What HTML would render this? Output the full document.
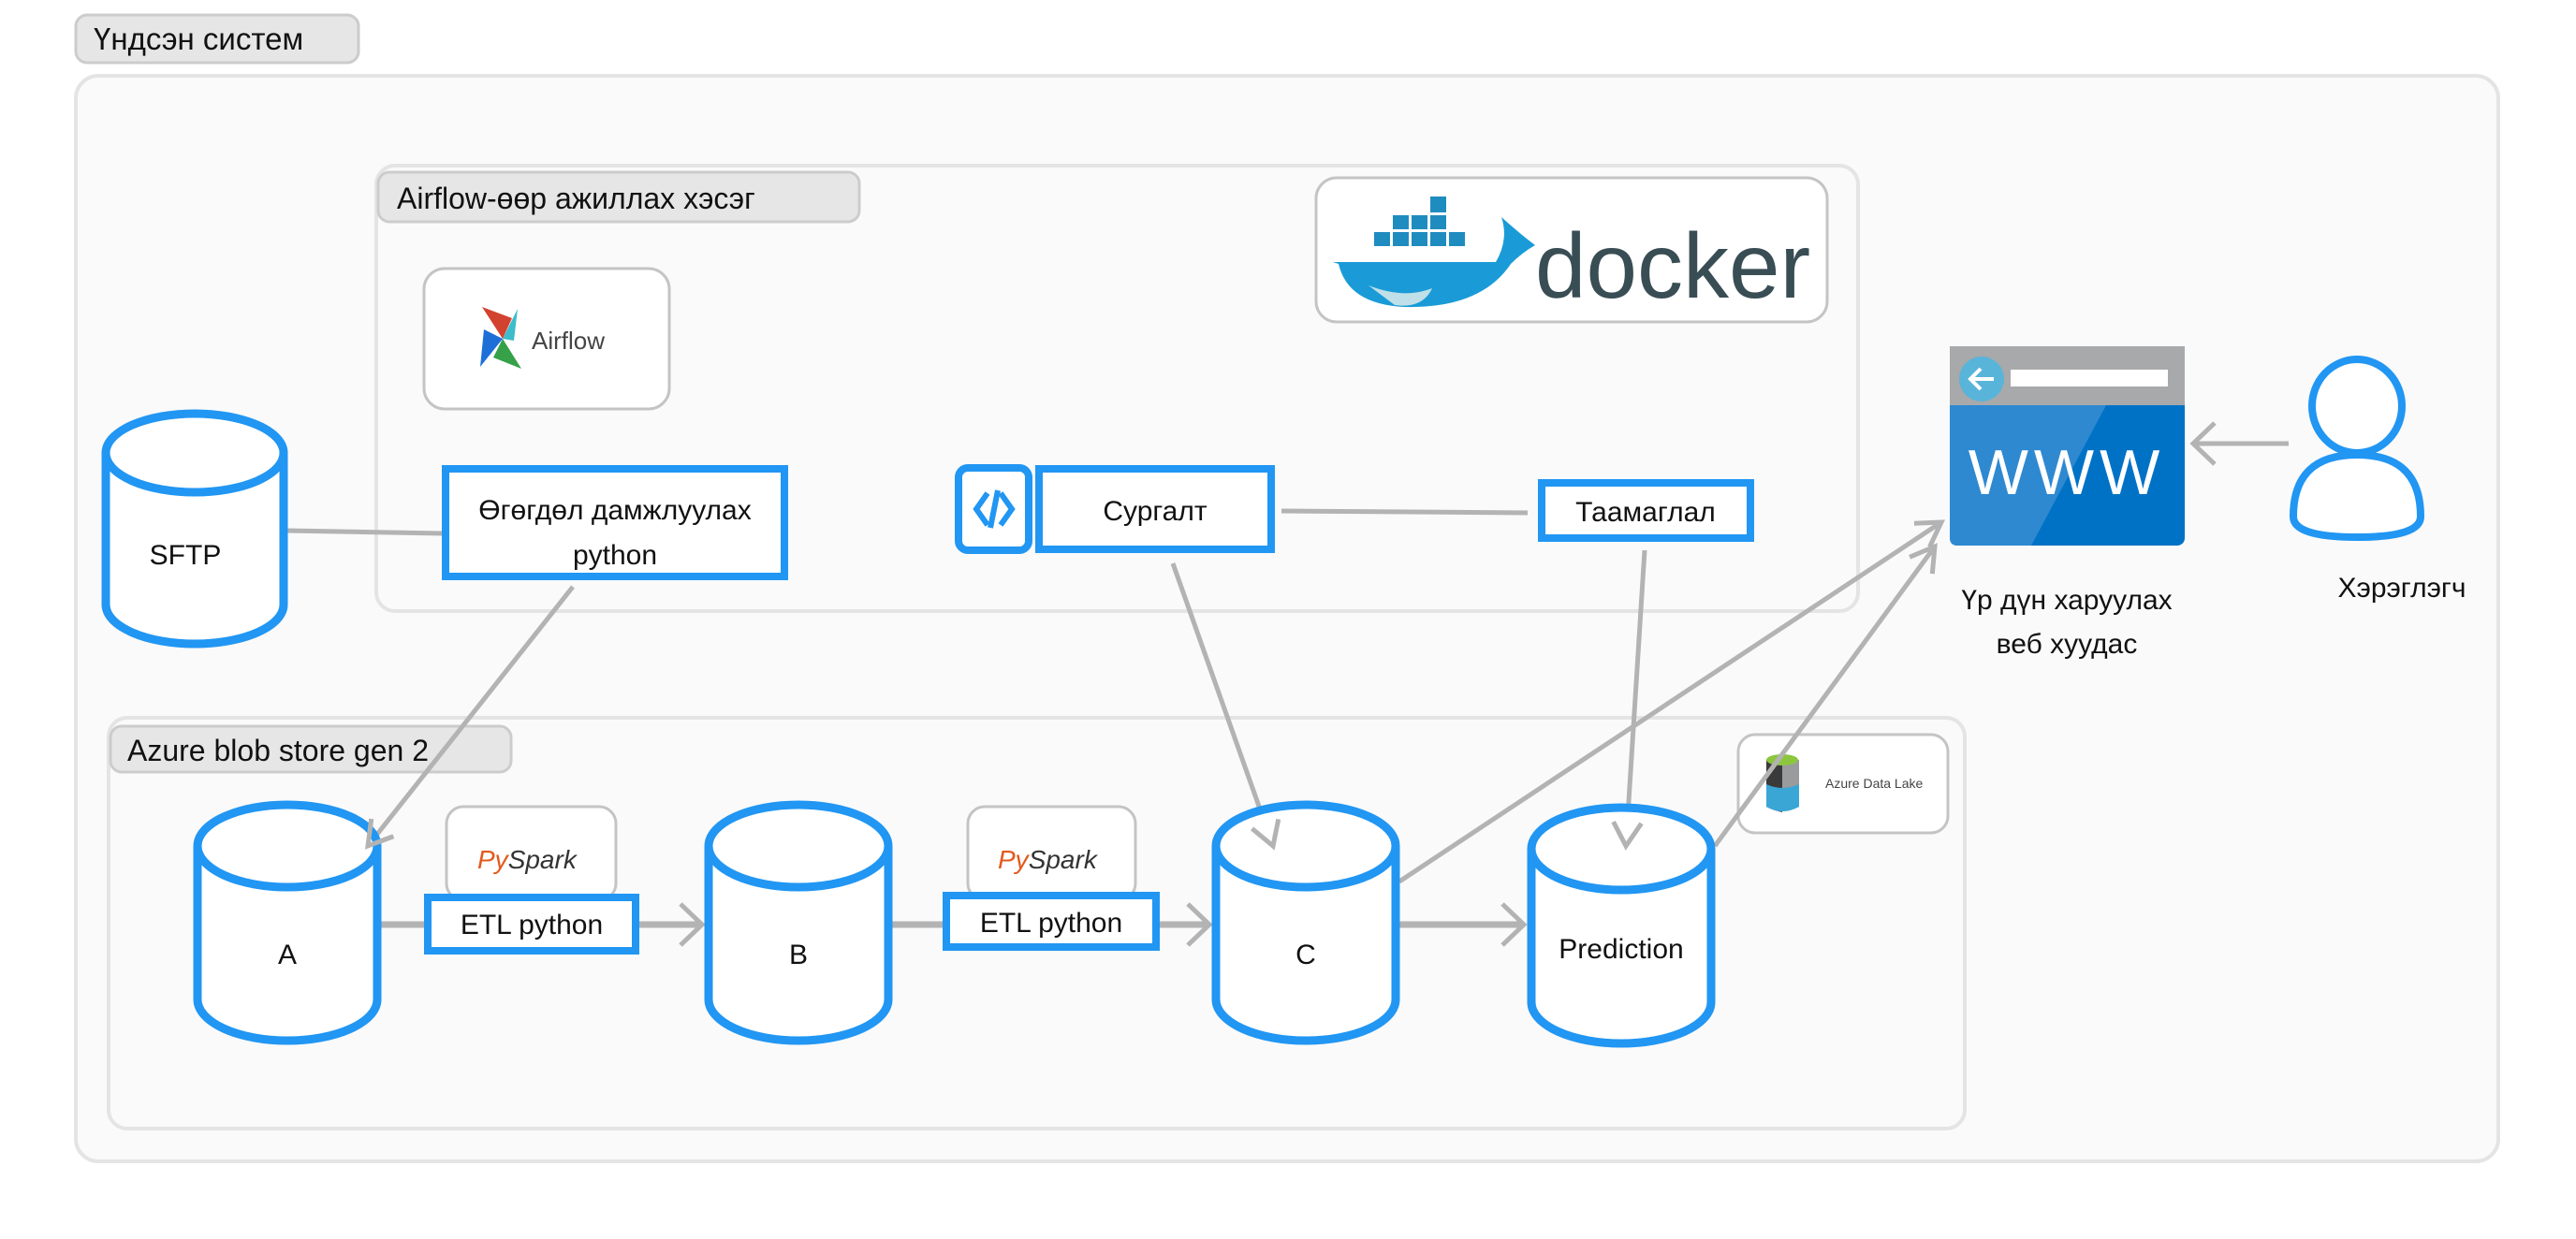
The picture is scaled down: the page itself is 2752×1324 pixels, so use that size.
<!DOCTYPE html>
<html><head><meta charset="utf-8"><style>
html,body{margin:0;padding:0;background:#fff;width:2752px;height:1324px;overflow:hidden}
svg{display:block}
text{font-family:"Liberation Sans",sans-serif;fill:#111}
</style></head><body>
<svg width="2752" height="1324" viewBox="0 0 2752 1324" xmlns="http://www.w3.org/2000/svg">
<!-- outer -->
<rect x="81" y="16" width="302" height="51" rx="12" fill="#e6e6e6" stroke="#cccccc" stroke-width="3"/>
<text x="100" y="53" font-size="33">Үндсэн систем</text>
<rect x="81" y="81" width="2588" height="1160" rx="24" fill="#fafafa" stroke="#e4e4e4" stroke-width="4"/>
<!-- airflow group -->
<rect x="402" y="177" width="1583" height="476" rx="20" fill="#fafafa" stroke="#e4e4e4" stroke-width="4"/>
<rect x="404" y="184" width="514" height="53" rx="12" fill="#e6e6e6" stroke="#cccccc" stroke-width="3"/>
<text x="424" y="223" font-size="32">Airflow-өөр ажиллах хэсэг</text>
<rect x="453" y="287" width="262" height="150" rx="22" fill="#fff" stroke="#c4c4c4" stroke-width="3"/>
<g transform="translate(537,362)">
<path d="M0,0 L-22,-34 L10,-22 Z" fill="#d2432f"/>
<path d="M0,0 L16,-32 L12,2 Z" fill="#3dbccb"/>
<path d="M0,0 L20,32 L-10,20 Z" fill="#36a148"/>
<path d="M0,0 L-24,30 L-20,-10 Z" fill="#1d6fd7"/>
</g>
<text x="568" y="373" font-size="26" style="fill:#444">Airflow</text>
<rect x="1406" y="190" width="546" height="154" rx="22" fill="#fff" stroke="#c4c4c4" stroke-width="3"/>
<g fill="#1f8cc0">
<rect x="1468" y="248" width="17" height="15"/><rect x="1488" y="248" width="17" height="15"/><rect x="1508" y="248" width="17" height="15"/><rect x="1528" y="248" width="17" height="15"/><rect x="1548" y="248" width="17" height="15"/>
<rect x="1488" y="230" width="17" height="15"/><rect x="1508" y="230" width="17" height="15"/><rect x="1528" y="230" width="17" height="15"/>
<rect x="1528" y="210" width="17" height="17"/>
</g>
<path d="M1424,280 H1598 Q1612,256 1604,232 Q1624,250 1640,262 Q1626,270 1614,282 Q1582,330 1500,328 Q1440,325 1430,282 Z" fill="#1a9bd7"/>
<path d="M1462,305 Q1500,320 1530,308 Q1520,330 1490,326 Z" fill="#bfe0e8"/>
<text x="1640" y="318" font-size="98" style="fill:#394d54">docker</text>
<!-- web -->
<rect x="2083" y="370" width="251" height="213" rx="8" fill="#0072c6"/>
<path d="M2083,370 H2334 V433 H2083 Z" fill="#a8a9ab"/>
<path d="M2083,433 H2250 L2170,583 H2091 Q2083,583 2083,575 Z" fill="#3a8fd3" opacity="0.8"/>
<circle cx="2117" cy="405" r="24" fill="#59b4d9"/>
<path d="M2130,405 H2106 M2116,394 L2105,405 L2116,416" stroke="#fff" stroke-width="4" fill="none"/>
<rect x="2148" y="395" width="168" height="18" fill="#fff"/>
<text x="2208" y="528" font-size="68" text-anchor="middle" style="fill:#fff" letter-spacing="6">WWW</text>
<text x="2208" y="651" font-size="30" text-anchor="middle">Үр дүн харуулах</text>
<text x="2208" y="698" font-size="30" text-anchor="middle">веб хуудас</text>
<!-- person -->
<ellipse cx="2518" cy="434" rx="48" ry="50" fill="#fff" stroke="#2196f3" stroke-width="8"/>
<path d="M2450,552 Q2450,486 2518,486 Q2586,486 2586,552 Q2586,574 2518,574 Q2450,574 2450,552 Z" fill="#fff" stroke="#2196f3" stroke-width="8"/>
<text x="2566" y="638" font-size="30" text-anchor="middle">Хэрэглэгч</text>
<!-- azure group -->
<rect x="116" y="767" width="1983" height="439" rx="20" fill="#fafafa" stroke="#e4e4e4" stroke-width="4"/>
<rect x="118" y="776" width="428" height="49" rx="12" fill="#e6e6e6" stroke="#cccccc" stroke-width="3"/>
<text x="136" y="813" font-size="32">Azure blob store gen 2</text>
<rect x="1857" y="785" width="224" height="105" rx="18" fill="#fff" stroke="#c4c4c4" stroke-width="3"/>
<path d="M1887,812 V862 Q1904,872 1922,862 V812 Z" fill="#9a9b9c"/>
<path d="M1887,812 V862 Q1895,866 1904,868 V816 Z" fill="#3a3a3a"/>
<path d="M1887,838 Q1904,846 1922,838 V862 Q1904,872 1887,862 Z" fill="#3aa6d6"/>
<ellipse cx="1904" cy="812" rx="17" ry="6" fill="#8cc63f"/>
<text x="1950" y="842" font-size="14" style="fill:#444">Azure Data Lake</text>
<!-- pyspark -->
<rect x="477" y="862" width="181" height="100" rx="18" fill="#fff" stroke="#c4c4c4" stroke-width="3"/>
<text x="510" y="928" font-size="28" font-style="italic"><tspan style="fill:#e25a1c">Py</tspan><tspan style="fill:#333">Spark</tspan></text>
<rect x="1034" y="862" width="179" height="100" rx="18" fill="#fff" stroke="#c4c4c4" stroke-width="3"/>
<text x="1066" y="928" font-size="28" font-style="italic"><tspan style="fill:#e25a1c">Py</tspan><tspan style="fill:#333">Spark</tspan></text>
<!-- connectors -->
<g stroke="#b3b3b3" stroke-width="5" fill="none" stroke-linejoin="miter">
<line x1="307" y1="567" x2="472" y2="570"/>
<line x1="612" y1="627" x2="393" y2="904"/>
<path d="M396.7,875.1 L393,904 L420.3,893.7"/>
<line x1="1369" y1="546" x2="1632" y2="548"/>
<line x1="1253" y1="602" x2="1360" y2="904"/>
<path d="M1337.6,885.4 L1360,904 L1365.8,875.4"/>
<line x1="1757" y1="588" x2="1737" y2="904"/>
<path d="M1723.6,878.1 L1737,904 L1753.6,879.9"/>
<line x1="1495" y1="942" x2="2074" y2="558"/>
<path d="M2061.5,584.3 L2074,558 L2044.9,559.3"/>
<line x1="1832" y1="904" x2="2067" y2="584"/>
<path d="M2064.3,613.1 L2067,584 L2040.1,595.3"/>
<line x1="2445" y1="474" x2="2343" y2="474"/>
<path d="M2366,452 L2343,474 L2366,496"/>
<line x1="407" y1="988" x2="453" y2="988" stroke-width="7"/>
<line x1="683" y1="988" x2="750" y2="988" stroke-width="7"/>
<path d="M727,966 L750,988 L727,1010"/>
<line x1="953" y1="988" x2="1007" y2="988" stroke-width="7"/>
<line x1="1239" y1="988" x2="1292" y2="988" stroke-width="7"/>
<path d="M1269,966 L1292,988 L1269,1010"/>
<line x1="1495" y1="988" x2="1628" y2="988" stroke-width="7"/>
<path d="M1605,966 L1628,988 L1605,1010"/>
</g>
<!-- cylinders -->
<g fill="#fff" stroke="#2196f3" stroke-width="9">
<path d="M113,484 V646 A95,42 0 0 0 303,646 V484"/><ellipse cx="208" cy="484" rx="95" ry="42"/>
<path d="M211,904 V1068 A96,44 0 0 0 403,1068 V904"/><ellipse cx="307" cy="904" rx="96" ry="44"/>
<path d="M757,904 V1068 A96,44 0 0 0 949,1068 V904"/><ellipse cx="853" cy="904" rx="96" ry="44"/>
<path d="M1299,904 V1068 A96,44 0 0 0 1491,1068 V904"/><ellipse cx="1395" cy="904" rx="96" ry="44"/>
<path d="M1636,907 V1071 A96,44 0 0 0 1828,1071 V907"/><ellipse cx="1732" cy="907" rx="96" ry="44"/>
</g>
<g stroke="#b3b3b3" stroke-width="5" fill="none">
<path d="M396.7,875.1 L393,904 L420.3,893.7"/>
<path d="M1337.6,885.4 L1360,904 L1365.8,875.4"/>
<path d="M1723.6,878.1 L1737,904 L1753.6,879.9"/>
</g>
<text x="198" y="603" font-size="30" text-anchor="middle">SFTP</text>
<text x="307" y="1030" font-size="30" text-anchor="middle">A</text>
<text x="853" y="1030" font-size="30" text-anchor="middle">B</text>
<text x="1395" y="1030" font-size="30" text-anchor="middle">C</text>
<text x="1732" y="1024" font-size="30" text-anchor="middle">Prediction</text>
<!-- boxes -->
<g fill="#fff" stroke="#2196f3" stroke-width="8">
<rect x="476" y="501" width="362" height="115"/>
<rect x="1024" y="500" width="75" height="88" rx="10"/>
<rect x="1110" y="501" width="248" height="86"/>
<rect x="1647" y="516" width="223" height="59"/>
<rect x="457" y="959" width="222" height="57"/>
<rect x="1011" y="957" width="224" height="55"/>
</g>
<path d="M1055,527 L1043,544 L1055,561 M1069,527 L1081,544 L1069,561 M1066,524 L1058,564" stroke="#2196f3" stroke-width="6" fill="none"/>
<text x="657" y="555" font-size="30" text-anchor="middle">Өгөгдөл дамжлуулах</text>
<text x="657" y="603" font-size="30" text-anchor="middle">python</text>
<text x="1234" y="556" font-size="30" text-anchor="middle">Сургалт</text>
<text x="1758" y="557" font-size="30" text-anchor="middle">Таамаглал</text>
<text x="568" y="998" font-size="30" text-anchor="middle">ETL python</text>
<text x="1123" y="996" font-size="30" text-anchor="middle">ETL python</text>
</svg>
</body></html>
